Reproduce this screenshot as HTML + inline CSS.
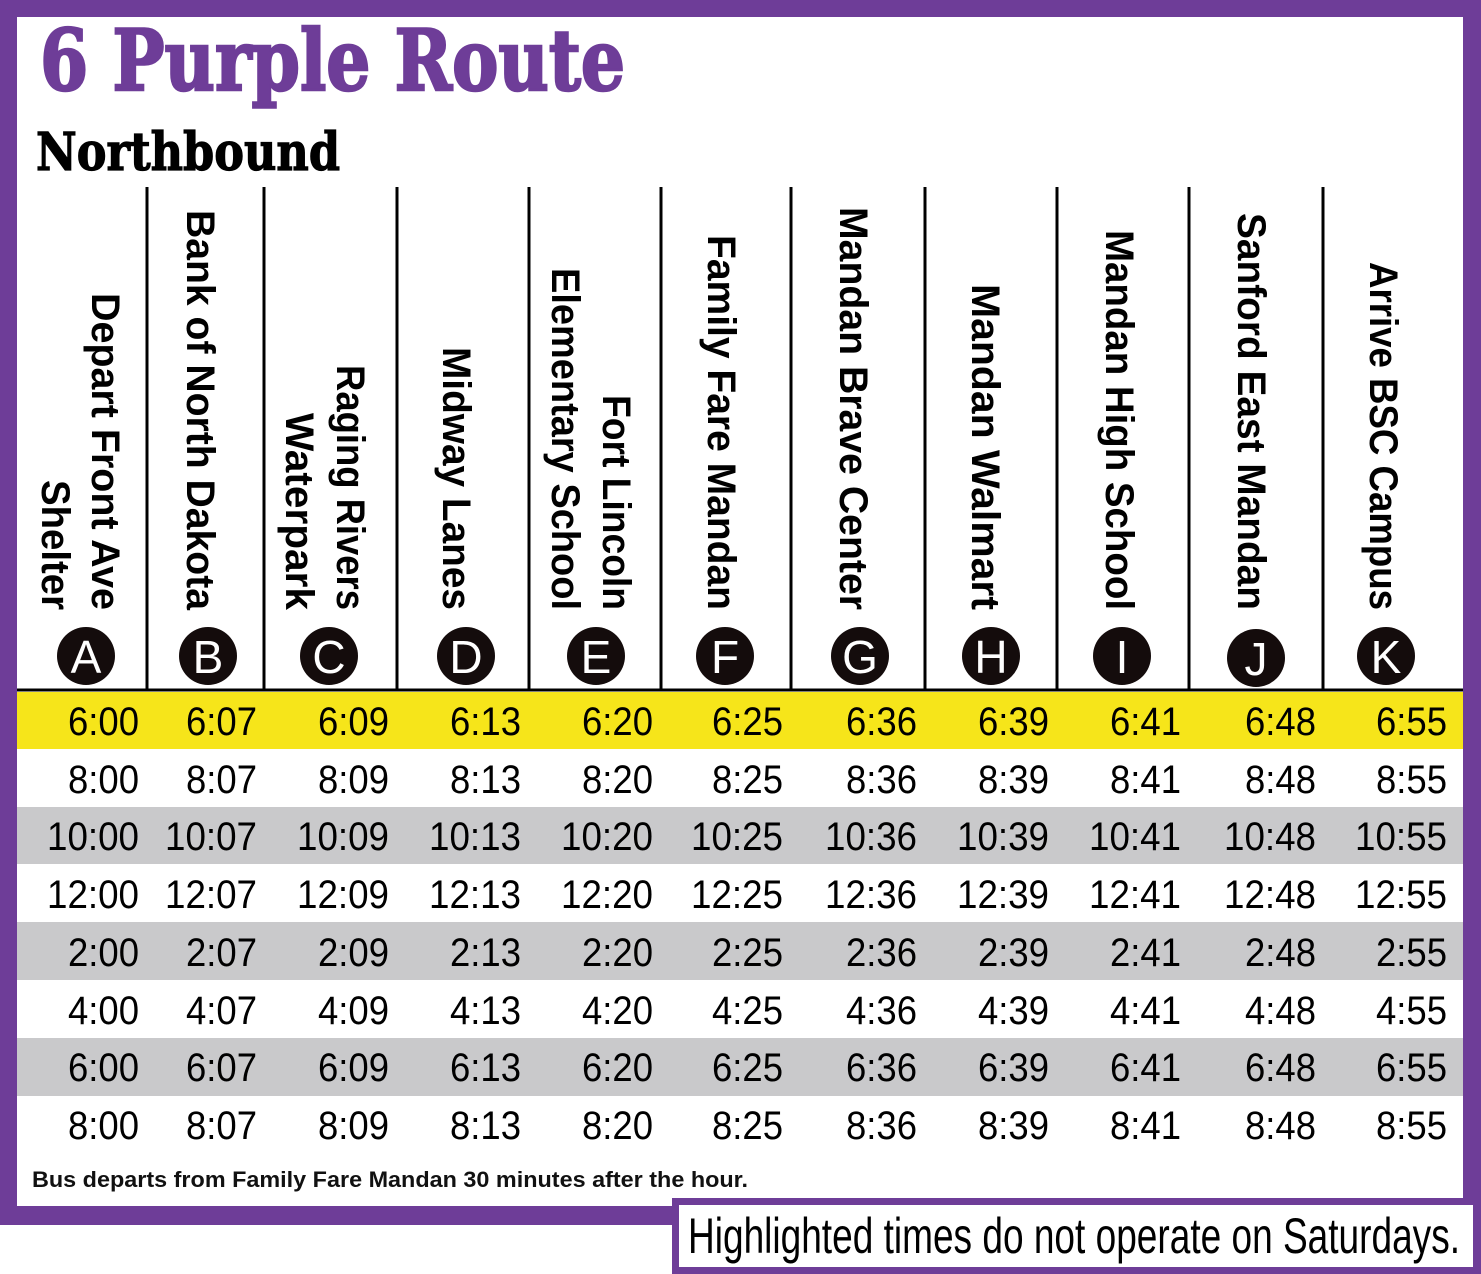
<!DOCTYPE html>
<html><head><meta charset="utf-8"><style>html,body{margin:0;padding:0;background:#fff}svg{display:block}</style></head>
<body>
<svg width="1481" height="1274" viewBox="0 0 1481 1274" xmlns="http://www.w3.org/2000/svg">
<rect x="0" y="0" width="1481" height="1274" fill="#fff"/>
<rect x="0" y="0" width="1481" height="1225" fill="#6e3d98"/>
<rect x="17" y="17" width="1446" height="1189" fill="#fff"/>
<text x="40" y="90" font-family="DejaVu Serif, Liberation Serif, serif" font-weight="bold" font-size="84" fill="#6e3d98" stroke="#6e3d98" stroke-width="2.5" textLength="585" lengthAdjust="spacingAndGlyphs">6 Purple Route</text>
<text x="36" y="170" font-family="DejaVu Serif, Liberation Serif, serif" font-weight="bold" font-size="52" fill="#000" stroke="#000" stroke-width="1.2" textLength="304" lengthAdjust="spacingAndGlyphs">Northbound</text>
<rect x="17" y="692" width="1446" height="57" fill="#f6e51a"/>
<rect x="17" y="807" width="1446" height="57" fill="#c9c9cb"/>
<rect x="17" y="922" width="1446" height="58" fill="#c9c9cb"/>
<rect x="17" y="1038" width="1446" height="58" fill="#c9c9cb"/>
<g stroke="#000" stroke-width="3">
<line x1="147" y1="187" x2="147" y2="690"/><line x1="264" y1="187" x2="264" y2="690"/>
<line x1="397" y1="187" x2="397" y2="690"/><line x1="529" y1="187" x2="529" y2="690"/>
<line x1="661" y1="187" x2="661" y2="690"/><line x1="791" y1="187" x2="791" y2="690"/>
<line x1="925" y1="187" x2="925" y2="690"/><line x1="1057" y1="187" x2="1057" y2="690"/>
<line x1="1189" y1="187" x2="1189" y2="690"/><line x1="1323" y1="187" x2="1323" y2="690"/>
<line x1="17" y1="690" x2="1463" y2="690"/>
</g>
<g font-family="Liberation Sans, sans-serif" font-weight="bold" font-size="40" fill="#000" text-anchor="end">
<text transform="translate(92,610) rotate(90)" textLength="317" lengthAdjust="spacingAndGlyphs">Depart Front Ave</text>
<text transform="translate(42,610) rotate(90)" textLength="130" lengthAdjust="spacingAndGlyphs">Shelter</text>
<text transform="translate(187,610) rotate(90)" textLength="400" lengthAdjust="spacingAndGlyphs">Bank of North Dakota</text>
<text transform="translate(337,610) rotate(90)" textLength="245" lengthAdjust="spacingAndGlyphs">Raging Rivers</text>
<text transform="translate(286,610) rotate(90)" textLength="197" lengthAdjust="spacingAndGlyphs">Waterpark</text>
<text transform="translate(443,610) rotate(90)" textLength="263" lengthAdjust="spacingAndGlyphs">Midway Lanes</text>
<text transform="translate(603,610) rotate(90)" textLength="215" lengthAdjust="spacingAndGlyphs">Fort Lincoln</text>
<text transform="translate(552,610) rotate(90)" textLength="342" lengthAdjust="spacingAndGlyphs">Elementary School</text>
<text transform="translate(708,610) rotate(90)" textLength="375" lengthAdjust="spacingAndGlyphs">Family Fare Mandan</text>
<text transform="translate(840,610) rotate(90)" textLength="403" lengthAdjust="spacingAndGlyphs">Mandan Brave Center</text>
<text transform="translate(972,610) rotate(90)" textLength="326" lengthAdjust="spacingAndGlyphs">Mandan Walmart</text>
<text transform="translate(1106,610) rotate(90)" textLength="380" lengthAdjust="spacingAndGlyphs">Mandan High School</text>
<text transform="translate(1238,610) rotate(90)" textLength="397" lengthAdjust="spacingAndGlyphs">Sanford East Mandan</text>
<text transform="translate(1370,610) rotate(90)" textLength="348" lengthAdjust="spacingAndGlyphs">Arrive BSC Campus</text>
</g>
<g fill="#140c0c">
<circle cx="86" cy="656" r="29"/><circle cx="208" cy="656" r="29"/><circle cx="329" cy="656" r="29"/>
<circle cx="466" cy="656" r="29"/><circle cx="596" cy="656" r="29"/><circle cx="725" cy="656" r="29"/>
<circle cx="860" cy="656" r="29"/><circle cx="991" cy="656" r="29"/><circle cx="1122" cy="656" r="29"/>
<circle cx="1256" cy="658" r="29"/><circle cx="1386" cy="656" r="29"/>
</g>
<g font-family="Liberation Sans, sans-serif" font-size="46" fill="#fff" text-anchor="middle">
<text x="86" y="673">A</text><text x="208" y="673">B</text><text x="329" y="673">C</text>
<text x="466" y="673">D</text><text x="596" y="673">E</text><text x="725" y="673">F</text>
<text x="860" y="673">G</text><text x="991" y="673">H</text><text x="1122" y="673">I</text>
<text x="1256" y="675">J</text><text x="1386" y="673">K</text>
</g>
<g font-family="Liberation Sans, sans-serif" font-size="40" fill="#000" text-anchor="end">
<text x="139" y="735" textLength="71" lengthAdjust="spacingAndGlyphs">6:00</text><text x="257" y="735" textLength="71" lengthAdjust="spacingAndGlyphs">6:07</text><text x="389" y="735" textLength="71" lengthAdjust="spacingAndGlyphs">6:09</text><text x="521" y="735" textLength="71" lengthAdjust="spacingAndGlyphs">6:13</text><text x="653" y="735" textLength="71" lengthAdjust="spacingAndGlyphs">6:20</text><text x="783" y="735" textLength="71" lengthAdjust="spacingAndGlyphs">6:25</text><text x="917" y="735" textLength="71" lengthAdjust="spacingAndGlyphs">6:36</text><text x="1049" y="735" textLength="71" lengthAdjust="spacingAndGlyphs">6:39</text><text x="1181" y="735" textLength="71" lengthAdjust="spacingAndGlyphs">6:41</text><text x="1316" y="735" textLength="71" lengthAdjust="spacingAndGlyphs">6:48</text><text x="1447" y="735" textLength="71" lengthAdjust="spacingAndGlyphs">6:55</text>
<text x="139" y="793" textLength="71" lengthAdjust="spacingAndGlyphs">8:00</text><text x="257" y="793" textLength="71" lengthAdjust="spacingAndGlyphs">8:07</text><text x="389" y="793" textLength="71" lengthAdjust="spacingAndGlyphs">8:09</text><text x="521" y="793" textLength="71" lengthAdjust="spacingAndGlyphs">8:13</text><text x="653" y="793" textLength="71" lengthAdjust="spacingAndGlyphs">8:20</text><text x="783" y="793" textLength="71" lengthAdjust="spacingAndGlyphs">8:25</text><text x="917" y="793" textLength="71" lengthAdjust="spacingAndGlyphs">8:36</text><text x="1049" y="793" textLength="71" lengthAdjust="spacingAndGlyphs">8:39</text><text x="1181" y="793" textLength="71" lengthAdjust="spacingAndGlyphs">8:41</text><text x="1316" y="793" textLength="71" lengthAdjust="spacingAndGlyphs">8:48</text><text x="1447" y="793" textLength="71" lengthAdjust="spacingAndGlyphs">8:55</text>
<text x="139" y="850" textLength="92" lengthAdjust="spacingAndGlyphs">10:00</text><text x="257" y="850" textLength="92" lengthAdjust="spacingAndGlyphs">10:07</text><text x="389" y="850" textLength="92" lengthAdjust="spacingAndGlyphs">10:09</text><text x="521" y="850" textLength="92" lengthAdjust="spacingAndGlyphs">10:13</text><text x="653" y="850" textLength="92" lengthAdjust="spacingAndGlyphs">10:20</text><text x="783" y="850" textLength="92" lengthAdjust="spacingAndGlyphs">10:25</text><text x="917" y="850" textLength="92" lengthAdjust="spacingAndGlyphs">10:36</text><text x="1049" y="850" textLength="92" lengthAdjust="spacingAndGlyphs">10:39</text><text x="1181" y="850" textLength="92" lengthAdjust="spacingAndGlyphs">10:41</text><text x="1316" y="850" textLength="92" lengthAdjust="spacingAndGlyphs">10:48</text><text x="1447" y="850" textLength="92" lengthAdjust="spacingAndGlyphs">10:55</text>
<text x="139" y="908" textLength="92" lengthAdjust="spacingAndGlyphs">12:00</text><text x="257" y="908" textLength="92" lengthAdjust="spacingAndGlyphs">12:07</text><text x="389" y="908" textLength="92" lengthAdjust="spacingAndGlyphs">12:09</text><text x="521" y="908" textLength="92" lengthAdjust="spacingAndGlyphs">12:13</text><text x="653" y="908" textLength="92" lengthAdjust="spacingAndGlyphs">12:20</text><text x="783" y="908" textLength="92" lengthAdjust="spacingAndGlyphs">12:25</text><text x="917" y="908" textLength="92" lengthAdjust="spacingAndGlyphs">12:36</text><text x="1049" y="908" textLength="92" lengthAdjust="spacingAndGlyphs">12:39</text><text x="1181" y="908" textLength="92" lengthAdjust="spacingAndGlyphs">12:41</text><text x="1316" y="908" textLength="92" lengthAdjust="spacingAndGlyphs">12:48</text><text x="1447" y="908" textLength="92" lengthAdjust="spacingAndGlyphs">12:55</text>
<text x="139" y="966" textLength="71" lengthAdjust="spacingAndGlyphs">2:00</text><text x="257" y="966" textLength="71" lengthAdjust="spacingAndGlyphs">2:07</text><text x="389" y="966" textLength="71" lengthAdjust="spacingAndGlyphs">2:09</text><text x="521" y="966" textLength="71" lengthAdjust="spacingAndGlyphs">2:13</text><text x="653" y="966" textLength="71" lengthAdjust="spacingAndGlyphs">2:20</text><text x="783" y="966" textLength="71" lengthAdjust="spacingAndGlyphs">2:25</text><text x="917" y="966" textLength="71" lengthAdjust="spacingAndGlyphs">2:36</text><text x="1049" y="966" textLength="71" lengthAdjust="spacingAndGlyphs">2:39</text><text x="1181" y="966" textLength="71" lengthAdjust="spacingAndGlyphs">2:41</text><text x="1316" y="966" textLength="71" lengthAdjust="spacingAndGlyphs">2:48</text><text x="1447" y="966" textLength="71" lengthAdjust="spacingAndGlyphs">2:55</text>
<text x="139" y="1024" textLength="71" lengthAdjust="spacingAndGlyphs">4:00</text><text x="257" y="1024" textLength="71" lengthAdjust="spacingAndGlyphs">4:07</text><text x="389" y="1024" textLength="71" lengthAdjust="spacingAndGlyphs">4:09</text><text x="521" y="1024" textLength="71" lengthAdjust="spacingAndGlyphs">4:13</text><text x="653" y="1024" textLength="71" lengthAdjust="spacingAndGlyphs">4:20</text><text x="783" y="1024" textLength="71" lengthAdjust="spacingAndGlyphs">4:25</text><text x="917" y="1024" textLength="71" lengthAdjust="spacingAndGlyphs">4:36</text><text x="1049" y="1024" textLength="71" lengthAdjust="spacingAndGlyphs">4:39</text><text x="1181" y="1024" textLength="71" lengthAdjust="spacingAndGlyphs">4:41</text><text x="1316" y="1024" textLength="71" lengthAdjust="spacingAndGlyphs">4:48</text><text x="1447" y="1024" textLength="71" lengthAdjust="spacingAndGlyphs">4:55</text>
<text x="139" y="1081" textLength="71" lengthAdjust="spacingAndGlyphs">6:00</text><text x="257" y="1081" textLength="71" lengthAdjust="spacingAndGlyphs">6:07</text><text x="389" y="1081" textLength="71" lengthAdjust="spacingAndGlyphs">6:09</text><text x="521" y="1081" textLength="71" lengthAdjust="spacingAndGlyphs">6:13</text><text x="653" y="1081" textLength="71" lengthAdjust="spacingAndGlyphs">6:20</text><text x="783" y="1081" textLength="71" lengthAdjust="spacingAndGlyphs">6:25</text><text x="917" y="1081" textLength="71" lengthAdjust="spacingAndGlyphs">6:36</text><text x="1049" y="1081" textLength="71" lengthAdjust="spacingAndGlyphs">6:39</text><text x="1181" y="1081" textLength="71" lengthAdjust="spacingAndGlyphs">6:41</text><text x="1316" y="1081" textLength="71" lengthAdjust="spacingAndGlyphs">6:48</text><text x="1447" y="1081" textLength="71" lengthAdjust="spacingAndGlyphs">6:55</text>
<text x="139" y="1139" textLength="71" lengthAdjust="spacingAndGlyphs">8:00</text><text x="257" y="1139" textLength="71" lengthAdjust="spacingAndGlyphs">8:07</text><text x="389" y="1139" textLength="71" lengthAdjust="spacingAndGlyphs">8:09</text><text x="521" y="1139" textLength="71" lengthAdjust="spacingAndGlyphs">8:13</text><text x="653" y="1139" textLength="71" lengthAdjust="spacingAndGlyphs">8:20</text><text x="783" y="1139" textLength="71" lengthAdjust="spacingAndGlyphs">8:25</text><text x="917" y="1139" textLength="71" lengthAdjust="spacingAndGlyphs">8:36</text><text x="1049" y="1139" textLength="71" lengthAdjust="spacingAndGlyphs">8:39</text><text x="1181" y="1139" textLength="71" lengthAdjust="spacingAndGlyphs">8:41</text><text x="1316" y="1139" textLength="71" lengthAdjust="spacingAndGlyphs">8:48</text><text x="1447" y="1139" textLength="71" lengthAdjust="spacingAndGlyphs">8:55</text>
</g>
<text x="32" y="1187" font-family="Liberation Sans, sans-serif" font-weight="bold" font-size="22" fill="#111" textLength="716" lengthAdjust="spacingAndGlyphs">Bus departs from Family Fare Mandan  30 minutes after the hour.</text>
<rect x="672" y="1198" width="809" height="76" fill="#6e3d98"/>
<rect x="679" y="1205" width="794" height="62" fill="#fff"/>
<text x="688" y="1253" font-family="Liberation Sans, sans-serif" font-size="50" fill="#000" textLength="772" lengthAdjust="spacingAndGlyphs">Highlighted times do not operate on Saturdays.</text>
</svg>
</body></html>
